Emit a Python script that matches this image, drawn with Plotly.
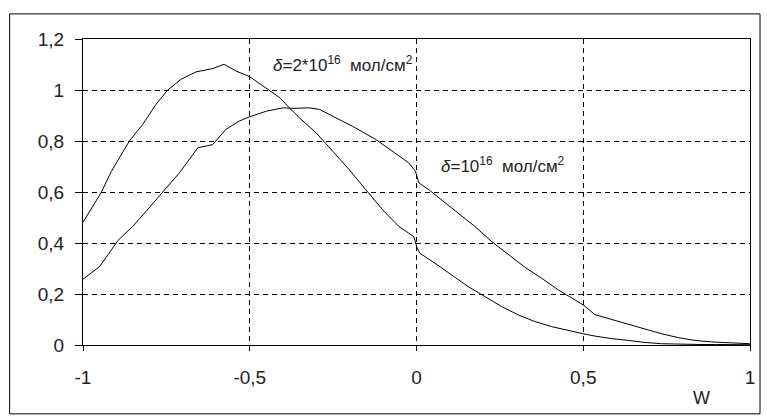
import plotly.graph_objects as go

# Curve for delta = 2*10^16 mol/cm^2
xA = [-1, -0.945, -0.915, -0.861, -0.821, -0.781, -0.746, -0.706, -0.661, -0.611, -0.577, -0.542,
      -0.5, -0.45, -0.41, -0.381, -0.351, -0.301, -0.251, -0.202, -0.152, -0.102, -0.053, -0.008,
      0.002, 0.01, 0.055, 0.105, 0.155, 0.205, 0.255, 0.305, 0.355, 0.405, 0.455, 0.5, 0.535,
      0.585, 0.635, 0.685, 0.735, 0.785, 0.85, 0.9, 0.95, 1.0]
yA = [0.481, 0.599, 0.681, 0.80, 0.865, 0.944, 1.0, 1.042, 1.071, 1.084, 1.101, 1.075,
      1.052, 1.005, 0.97, 0.93, 0.891, 0.832, 0.76, 0.688, 0.609, 0.531, 0.465, 0.425,
      0.38, 0.36, 0.321, 0.275, 0.229, 0.19, 0.151, 0.118, 0.092, 0.072, 0.056, 0.044, 0.035,
      0.025, 0.018, 0.01, 0.005, 0.003, 0.002, 0.002, 0.001, 0.001]

# Curve for delta = 10^16 mol/cm^2
xB = [-1, -0.95, -0.895, -0.851, -0.811, -0.761, -0.711, -0.656, -0.611, -0.572, -0.532, -0.5,
      -0.45, -0.40, -0.371, -0.321, -0.291, -0.242, -0.192, -0.122, -0.073, -0.023, -0.003,
      0.007, 0.037, 0.075, 0.125, 0.175, 0.225, 0.275, 0.325, 0.375, 0.425, 0.475, 0.5, 0.535,
      0.585, 0.635, 0.685, 0.735, 0.785, 0.835, 0.885, 0.935, 1.0]
yB = [0.258, 0.308, 0.41, 0.465, 0.524, 0.60, 0.675, 0.773, 0.786, 0.845, 0.878, 0.895,
      0.917, 0.93, 0.928, 0.93, 0.924, 0.891, 0.858, 0.806, 0.76, 0.714, 0.681,
      0.636, 0.609, 0.57, 0.518, 0.465, 0.406, 0.354, 0.305, 0.262, 0.216, 0.177, 0.157, 0.119,
      0.1, 0.08, 0.061, 0.044, 0.029, 0.018, 0.012, 0.008, 0.005]

x_tickvals = [-1, -0.5, 0, 0.5, 1]
x_ticktext = ["-1", "-0,5", "0", "0,5", "1"]
y_tickvals = [0, 0.2, 0.4, 0.6, 0.8, 1.0, 1.2]
y_ticktext = ["0", "0,2", "0,4", "0,6", "0,8", "1", "1,2"]

label_A = "<i>δ</i>=2*10<sup>16</sup>\u00a0\u00a0мол/см<sup>2</sup>"
label_B = "<i>δ</i>=10<sup>16</sup>\u00a0\u00a0мол/см<sup>2</sup>"
x_title = "W"

FONT = "Liberation Sans, Arial, sans-serif"
TXT = "#222222"

fig = go.Figure()
fig.add_trace(go.Scatter(x=xA, y=yA, mode="lines", line=dict(color="black", width=1), showlegend=False))
fig.add_trace(go.Scatter(x=xB, y=yB, mode="lines", line=dict(color="black", width=1), showlegend=False))

axis_common = dict(
    showline=True, linecolor="black", linewidth=1, mirror=True,
    showgrid=True, gridcolor="black", gridwidth=1, griddash="5px,4px",
    zeroline=False, ticks="outside", tickcolor="black", tickwidth=1,
    tickfont=dict(family=FONT, size=19, color=TXT),
)

fig.update_xaxes(range=[-1, 1], tickvals=x_tickvals, ticktext=x_ticktext, ticklen=5,
                 ticklabelstandoff=10, **axis_common)
fig.update_yaxes(range=[0, 1.2], tickvals=y_tickvals, ticktext=y_ticktext, ticklen=7,
                 ticklabelstandoff=7, **axis_common)

fig.add_annotation(x=-0.219, y=1.102, xref="x", yref="y", text=label_A, showarrow=False,
                   xanchor="center", yanchor="middle",
                   font=dict(family=FONT, size=17, color=TXT))
fig.add_annotation(x=0.258, y=0.706, xref="x", yref="y", text=label_B, showarrow=False,
                   xanchor="center", yanchor="middle",
                   font=dict(family=FONT, size=17, color=TXT))
fig.add_annotation(x=0.927, y=-0.172, xref="paper", yref="paper", text=x_title, showarrow=False,
                   xanchor="center", yanchor="middle",
                   font=dict(family=FONT, size=18, color=TXT))

fig.add_shape(type="rect", xref="paper", yref="paper", x0=-0.110, x1=1.015, y0=-0.225, y1=1.082,
              line=dict(color="black", width=1), fillcolor="rgba(0,0,0,0)", layer="below")

fig.update_layout(
    width=767, height=416,
    margin=dict(l=83, r=13, t=39, b=71),
    paper_bgcolor="white", plot_bgcolor="white",
    font=dict(family=FONT),
)

fig.write_html("out.html", config={"displayModeBar": False},
               post_script="document.body.style.margin='0px';document.body.style.padding='0px';")
